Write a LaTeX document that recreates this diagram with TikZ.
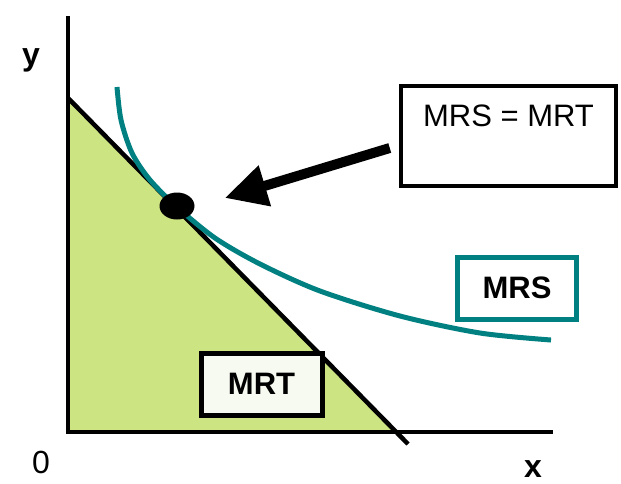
\documentclass[tikz,border=0pt]{standalone}
\usepackage{fontspec}
\setmainfont{Liberation Sans}
\usetikzlibrary{arrows.meta, shapes.geometric, positioning, calc}
\definecolor{budgetgreen}{RGB}{205,228,131}
\definecolor{indiffteal}{RGB}{0,128,128}
\definecolor{mrtwhite}{RGB}{247,250,240}

\begin{document}
\begin{tikzpicture}[x=1pt, y=-1pt,
  axisline/.style={line width=4.5pt},
  lblbox/.style={draw, line width=5pt, inner sep=0pt, font=\fontsize{31}{36}\selectfont\bfseries},
  axlabel/.style={anchor=base, inner sep=0pt, font=\fontsize{32}{36}\selectfont}
]
  \useasboundingbox (0,0) rectangle (621,483);

  % feasible set and axes
  \fill[budgetgreen] (68,98) -- (68,432) -- (395,432) -- cycle;
  \draw[axisline] (68,16) -- (68,432) -- (553,432);
  \draw[axisline] (68,98) -- (408,444);

  % indifference curve
  \draw[indiffteal, line width=5pt] plot[smooth] coordinates {(117,87) (121,120) (132,153) (150,180) (177,207) (215,238) (260,264) (320,291) (400,316) (480,333) (551,340)};

  % tangency point
  \node[ellipse, fill=black, minimum width=35pt, minimum height=27pt, inner sep=0pt] (opt) at (177,206) {};

  % boxes
  \node[lblbox, font=\fontsize{31}{36}\selectfont, line width=4.5pt, minimum width=215pt, minimum height=100pt,
        text height=36pt, text depth=56pt] (eqbox) at (508.5,136) {MRS = MRT};
  \node[lblbox, draw=indiffteal, minimum width=119pt, minimum height=62pt] (mrsbox) at (517,288) {MRS};
  \node[lblbox, fill=mrtwhite, minimum width=121pt, minimum height=62pt] (mrtbox) at (261.5,384) {MRT};

  % arrow to tangency
  \coordinate (tail) at ($(eqbox.west)+(-9,12)$);
  \draw[line width=10pt, -{Triangle[length=42pt, width=40pt]}] (tail) -- ($(opt.east)+(30,-8)$);

  % axis labels
  \node[axlabel, font=\fontsize{32}{36}\selectfont\bfseries] (ylbl) at (31,65) {y};
  \node[axlabel] (origin) at (41,473) {0};
  \node[axlabel, font=\fontsize{32}{36}\selectfont\bfseries] (xlbl) at (533,477) {x};
\end{tikzpicture}
\end{document}
